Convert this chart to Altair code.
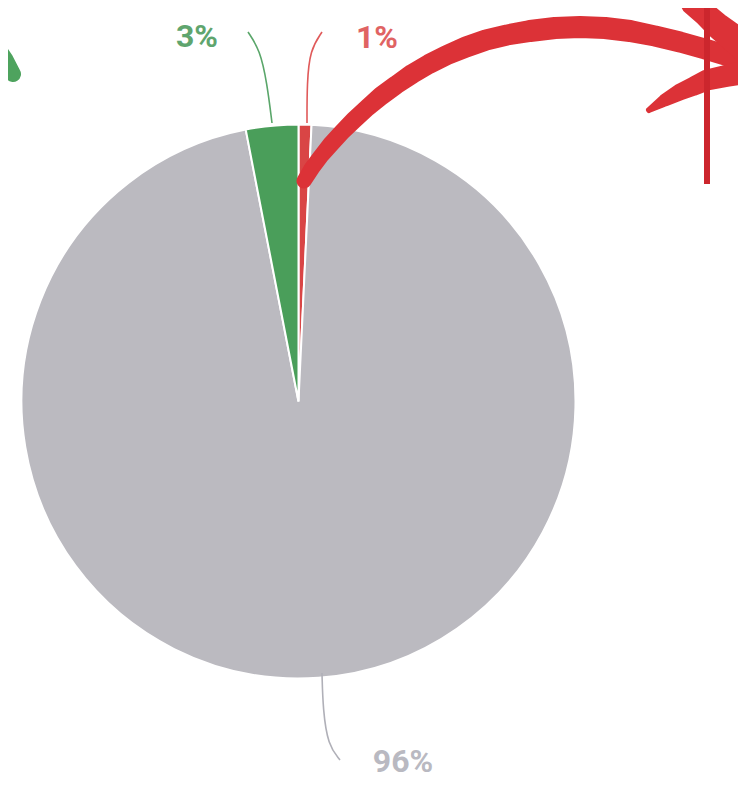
import altair as alt
import pandas as pd

# --- pie data ---
labels = ["1%", "96%", "3%"]
values = [0.75, 96.2, 3.05]
slice_colors = ["#d94545", "#bbbac0", "#4a9e5a"]
slice_order = [0, 1, 2]

# --- label annotations (page pixel coordinates) ---
label_text = ["3%", "1%", "96%"]
label_x = [197, 377, 403]
label_y = [47, 48, 772]
label_colors = ["#5fa56e", "#e06363", "#b9b9c1"]

# --- leader lines ---
lead_id = ["g"] * 4 + ["r"] * 4 + ["k"] * 4
lead_x = [272, 267, 260, 248, 307, 307, 310, 322, 322, 323, 328, 340]
lead_y = [123, 83, 50, 32, 123, 83, 50, 32, 673, 710, 745, 760]
lead_colors = {"g": "#5aa66a", "r": "#e05a5a", "k": "#b0b0b8"}

# --- hand-drawn arrow strokes (trail) ---
shaft_x = [304, 312, 321, 331, 342, 354, 367, 381, 396, 412, 429, 447, 466,
           486, 507, 530, 555, 580, 605, 630, 655, 680, 705, 725, 746]
shaft_y = [181, 168, 156, 144, 132, 120, 108, 96, 85, 74, 64, 55, 47,
           40, 35, 31, 28, 27, 28, 31, 36, 42, 49, 55, 62]
shaft_w = [15, 16, 16, 17, 17, 18, 18, 19, 19, 20, 20, 20, 21,
           21, 21, 22, 22, 22, 22, 22, 21, 21, 21, 21, 21]
up_x = [692, 705, 718, 732, 746]
up_y = [4, 14, 26, 37, 48]
up_w = [22, 24, 26, 28, 30]
low_x = [649, 665, 680, 694, 707, 726, 746]
low_y = [110, 100, 92, 86, 80, 76, 72]
low_w = [6, 13, 17, 19, 21, 22, 24]
green_x = [-6, 4, 13]
green_y = [46, 60, 74]
green_w = [20, 19, 16]

arrow_id = (["shaft"] * len(shaft_x) + ["up"] * len(up_x) + ["low"] * len(low_x)
            + ["green"] * len(green_x))
arrow_x = shaft_x + up_x + low_x + green_x
arrow_y = shaft_y + up_y + low_y + green_y
arrow_w = shaft_w + up_w + low_w + green_w
arrow_colors = {"shaft": "#dc3237", "up": "#dc3237", "low": "#dc3237", "green": "#4ea35e"}

# vertical red rule
vline_x = [707, 707]
vline_y = [0, 184]

W, H = 730, 771
xs = alt.Scale(domain=[8, 8 + W])
ys = alt.Scale(domain=[8 + H, 8])

pie_df = pd.DataFrame({"label": labels, "value": values, "color": slice_colors, "ord": slice_order})
pie = alt.Chart(pie_df).mark_arc(outerRadius=277, stroke="white", strokeWidth=2).encode(
    theta=alt.Theta("value:Q", stack=True),
    order=alt.Order("ord:Q"),
    color=alt.Color("color:N", scale=None),
    x=alt.value(298.5 - 8),
    y=alt.value(401.5 - 8),
)

lead_df = pd.DataFrame({"id": lead_id, "x": lead_x, "y": lead_y,
                        "i": list(range(len(lead_x))),
                        "color": [lead_colors[k] for k in lead_id]})
leads = alt.Chart(lead_df).mark_line(interpolate="basis", strokeWidth=1.6).encode(
    x=alt.X("x:Q", scale=xs, axis=None),
    y=alt.Y("y:Q", scale=ys, axis=None),
    detail="id:N",
    order="i:Q",
    color=alt.Color("color:N", scale=None),
)

lab_df = pd.DataFrame({"t": label_text, "x": label_x, "y": label_y, "color": label_colors})
labs = alt.Chart(lab_df).mark_text(font="Roboto", fontWeight="bold", fontSize=32,
                                   baseline="alphabetic", align="center").encode(
    x=alt.X("x:Q", scale=xs, axis=None),
    y=alt.Y("y:Q", scale=ys, axis=None),
    text="t:N",
    color=alt.Color("color:N", scale=None),
)

arr_df = pd.DataFrame({"id": arrow_id, "x": arrow_x, "y": arrow_y, "w": arrow_w,
                       "i": list(range(len(arrow_x))),
                       "color": [arrow_colors[k] for k in arrow_id]})
arrows = alt.Chart(arr_df).mark_trail().encode(
    x=alt.X("x:Q", scale=xs, axis=None),
    y=alt.Y("y:Q", scale=ys, axis=None),
    detail="id:N",
    order="i:Q",
    size=alt.Size("w:Q", scale=None, legend=None),
    color=alt.Color("color:N", scale=None),
)

vdf = pd.DataFrame({"x": vline_x, "y": vline_y, "i": [0, 1]})
vline = alt.Chart(vdf).mark_line(color="#cc262d", strokeWidth=6).encode(
    x=alt.X("x:Q", scale=xs, axis=None),
    y=alt.Y("y:Q", scale=ys, axis=None),
    order="i:Q",
)

chart = alt.layer(pie, leads, labs, arrows, vline).properties(
    width=W, height=H, padding=0, autosize=alt.AutoSizeParams(type="none")
).configure_view(stroke=None)

chart.save("out.html", embed_options={"renderer": "svg", "actions": False})
